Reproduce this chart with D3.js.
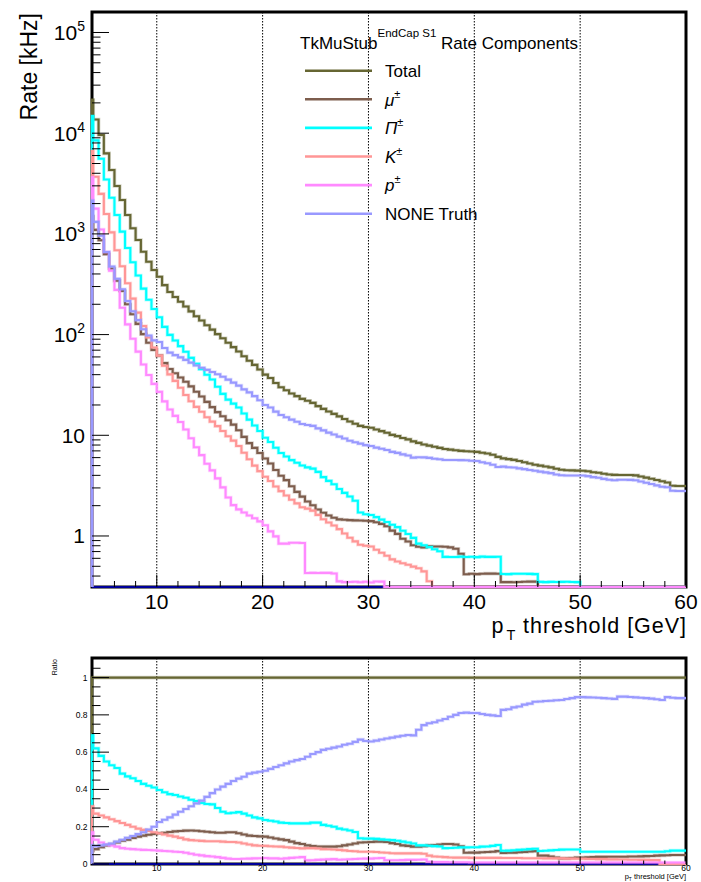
<!DOCTYPE html>
<html>
<head>
<meta charset="utf-8">
<script src="https://cdn.jsdelivr.net/npm/d3@7"></script>
<style>
  body { margin: 0; background: #fff; }
  svg { display: block; }
  text { font-family: "Liberation Sans", Arial, Helvetica, sans-serif; fill: #000; }
</style>
</head>
<body>
<svg id="chart" width="701" height="882"></svg>
<script>
// ---- binning: 0.5 GeV wide pT-threshold bins, low edges from 3.5 GeV ----
const ptEdges = d3.range(3.5, 60, 0.5);
const ptMax = 60;

// ---- total rate per bin [kHz] ----
const totalRate = [
  21400, 13700, 9600, 6300, 4310, 2990, 2170, 1540, 1137, 869,
  665, 529, 438, 375, 310, 265, 236, 212, 190, 170,
  152, 138, 124, 112, 101, 92, 83, 75, 68, 61,
  55, 50, 45, 40, 37, 33, 30, 28, 26, 24.5,
  23, 22, 21, 19.5, 18.3, 17.2, 16.3, 15.4, 14.5, 13.7,
  13, 12.4, 12.1, 11.9, 11.4, 11, 10.6, 10.1, 9.8, 9.4,
  9.1, 8.7, 8.4, 8.1, 7.9, 7.7, 7.5, 7.3, 7.2, 7.1,
  7.0, 6.95, 6.9, 6.85, 6.7, 6.6, 6.4, 6.1, 5.9, 5.8,
  5.7, 5.55, 5.4, 5.25, 5.1, 5.0, 4.9, 4.8, 4.65, 4.55,
  4.5, 4.48, 4.46, 4.45, 4.4, 4.3, 4.25, 4.15, 4.08, 4.04,
  4.03, 4.03, 4.03, 4.0, 3.9, 3.8, 3.7, 3.6, 3.5, 3.4,
  3.15, 3.14, 3.14
];

// ---- component fractions of the total per bin ----
const fracMu = [
  0.07, 0.08, 0.09, 0.10, 0.105, 0.115, 0.125, 0.13, 0.14, 0.147,
  0.152, 0.157, 0.161, 0.165, 0.168, 0.172, 0.175, 0.177, 0.179, 0.18,
  0.178, 0.176, 0.173, 0.17, 0.168, 0.168, 0.17, 0.17, 0.165, 0.158,
  0.152, 0.15, 0.148, 0.147, 0.142, 0.137, 0.132, 0.128, 0.12, 0.112,
  0.107, 0.1, 0.096, 0.094, 0.093, 0.093, 0.093, 0.095, 0.1, 0.105,
  0.11, 0.115, 0.117, 0.118, 0.12, 0.12, 0.118, 0.112, 0.107, 0.1,
  0.097, 0.093, 0.093, 0.095, 0.1, 0.102, 0.105, 0.107, 0.107, 0.105,
  0.095, 0.06, 0.061, 0.061, 0.063, 0.064, 0.066, 0.069, 0.059, 0.06,
  0.061, 0.063, 0.065, 0.067, 0.069, 0.045, 0.045, 0.04, 0.035, 0.03,
  0.03, 0.032, 0.034, 0.035, 0.036, 0.037, 0.038, 0.038, 0.039, 0.039,
  0.039, 0.039, 0.04, 0.04, 0.041, 0.042, 0.043, 0.045, 0.046, 0.047,
  0.048, 0.048, 0.048
];
const fracPi = [
  0.69, 0.62, 0.58, 0.55, 0.53, 0.515, 0.485, 0.47, 0.46, 0.445,
  0.43, 0.42, 0.41, 0.397, 0.385, 0.375, 0.37, 0.362, 0.355, 0.345,
  0.338, 0.328, 0.322, 0.32, 0.30, 0.28, 0.272, 0.275, 0.278, 0.27,
  0.26, 0.25, 0.245, 0.236, 0.232, 0.228, 0.222, 0.22, 0.218, 0.218,
  0.218, 0.218, 0.222, 0.222, 0.21, 0.205, 0.2, 0.19, 0.185, 0.18,
  0.172, 0.138, 0.136, 0.136, 0.135, 0.132, 0.13, 0.128, 0.125, 0.12,
  0.115, 0.11, 0.1, 0.1, 0.098, 0.096, 0.094, 0.085, 0.086, 0.087,
  0.089, 0.089, 0.09, 0.09, 0.093, 0.094, 0.097, 0.102, 0.071, 0.072,
  0.074, 0.076, 0.078, 0.08, 0.082, 0.07, 0.071, 0.073, 0.075, 0.077,
  0.078, 0.078, 0.078, 0.066, 0.066, 0.066, 0.066, 0.066, 0.066, 0.066,
  0.066, 0.066, 0.066, 0.066, 0.066, 0.066, 0.066, 0.066, 0.066, 0.068,
  0.072, 0.072, 0.072
];
const fracK = [
  0.31, 0.27, 0.26, 0.25, 0.24, 0.23, 0.22, 0.21, 0.2, 0.19,
  0.183, 0.177, 0.17, 0.165, 0.158, 0.152, 0.147, 0.14, 0.132, 0.128,
  0.126, 0.124, 0.122, 0.122, 0.122, 0.12, 0.118, 0.118, 0.115, 0.11,
  0.105, 0.1, 0.098, 0.097, 0.095, 0.094, 0.093, 0.09, 0.088, 0.086,
  0.084, 0.085, 0.085, 0.083, 0.08, 0.079, 0.078, 0.076, 0.073, 0.07,
  0.068, 0.066, 0.066, 0.066, 0.064, 0.062, 0.06, 0.058, 0.057, 0.057,
  0.057, 0.057, 0.057, 0.055, 0.045, 0.04, 0.039, 0.037, 0.035, 0.034,
  0.034, 0.034, 0.033, 0.033, 0.033, 0.033, 0.033, 0.033, 0.032, 0.032,
  0.032, 0.032, 0.031, 0.031, 0.031, 0.031, 0.03, 0.03, 0.03, 0.03,
  0.029, 0.029, 0.028, 0.028, 0.027, 0.027, 0.026, 0.026, 0.025, 0.025,
  0.024, 0.024, 0.023, 0.023, 0.022, 0.022, 0.021, 0.021, 0, 0,
  0, 0, 0
];
const fracP = [
  0.17, 0.13, 0.115, 0.105, 0.1, 0.093, 0.085, 0.082, 0.08, 0.078,
  0.076, 0.075, 0.074, 0.072, 0.07, 0.068, 0.066, 0.064, 0.06, 0.055,
  0.05, 0.046, 0.042, 0.04, 0.037, 0.033, 0.029, 0.027, 0.027, 0.028,
  0.029, 0.03, 0.031, 0.032, 0.03, 0.03, 0.028, 0.03, 0.033, 0.035,
  0.037, 0.0195, 0.0205, 0.022, 0.0235, 0.025, 0.026, 0.023, 0.024, 0.0255,
  0.027, 0.028, 0.029, 0.029, 0.031, 0.032, 0.02, 0.02, 0.02, 0.021,
  0.022, 0.022, 0.023, 0.024, 0.012, 0.01, 0.01, 0.01, 0.009, 0.009,
  0.009, 0.009, 0.008, 0.008, 0.008, 0.008, 0.008, 0.008, 0.008, 0.008,
  0.008, 0.008, 0.008, 0.008, 0.008, 0.008, 0.008, 0.008, 0.008, 0.008,
  0.008, 0.008, 0.008, 0.008, 0.008, 0.008, 0.008, 0.008, 0.008, 0.008,
  0.008, 0.008, 0.008, 0.008, 0.008, 0.008, 0.008, 0.008, 0.008, 0.008,
  0.008, 0.008, 0.008
];
const fracNone = [
  0.10, 0.096, 0.1, 0.105, 0.11, 0.12, 0.13, 0.14, 0.15, 0.16,
  0.17, 0.185, 0.2, 0.225, 0.237, 0.25, 0.265, 0.28, 0.295, 0.31,
  0.325, 0.34, 0.36, 0.38, 0.4, 0.415, 0.43, 0.445, 0.458, 0.468,
  0.485, 0.49, 0.495, 0.5, 0.51, 0.52, 0.53, 0.54, 0.55, 0.557,
  0.563, 0.575, 0.59, 0.6, 0.612, 0.618, 0.624, 0.63, 0.64, 0.645,
  0.655, 0.667, 0.66, 0.657, 0.662, 0.668, 0.673, 0.678, 0.683, 0.688,
  0.692, 0.69, 0.72, 0.745, 0.755, 0.76, 0.77, 0.778, 0.79, 0.8,
  0.81, 0.812, 0.81, 0.81, 0.805, 0.8, 0.797, 0.794, 0.827, 0.83,
  0.84, 0.845, 0.855, 0.86, 0.87, 0.872, 0.874, 0.876, 0.878, 0.88,
  0.885, 0.89, 0.895, 0.895, 0.894, 0.893, 0.892, 0.89, 0.888, 0.886,
  0.898, 0.898, 0.896, 0.894, 0.892, 0.89, 0.887, 0.884, 0.88, 0.895,
  0.892, 0.89, 0.89
];

// ---- axis tick values and labels ----
const xMajorTicks = [10, 20, 30, 40, 50, 60];
const xMinorTicks = [6, 8, 12, 14, 16, 18, 22, 24, 26, 28, 32, 34, 36, 38, 42, 44, 46, 48, 52, 54, 56, 58];
const rateDecades = [1, 10, 100, 1000, 10000, 100000];
const rateDecadeLabels = [["1", ""], ["10", ""], ["10", "2"], ["10", "3"], ["10", "4"], ["10", "5"]];
const ratioMajorTicks = [0, 0.2, 0.4, 0.6, 0.8, 1];
const ratioMajorLabels = ["0", "0.2", "0.4", "0.6", "0.8", "1"];

// ---- series styling (drawing order) ----
const frameHistColor = "#000099";   // empty frame histogram, drawn first
const series = [
  { key: "total", frac: null,   color: "#666633" },
  { key: "mu",    frac: fracMu, color: "#7d5d4d" },
  { key: "pi",    frac: fracPi, color: "#00ffff" },
  { key: "k",     frac: fracK,  color: "#ff9696" },
  { key: "p",     frac: fracP,  color: "#ff8aff" },
  { key: "none",  frac: fracNone, color: "#9999ff" }
];
const legendEntries = [
  { key: "total", parts: [["Total", "n"]] },
  { key: "mu",    parts: [["\u03bc", "i"], ["\u00b1", "sup"]] },
  { key: "pi",    parts: [["\u03a0", "i"], ["\u00b1", "sup"]] },
  { key: "k",     parts: [["K", "i"], ["\u00b1", "sup"]] },
  { key: "p",     parts: [["p", "i"], ["\u00b1", "sup"]] },
  { key: "none",  parts: [["NONE Truth", "n"]] }
];
const colorOf = Object.fromEntries(series.map(s => [s.key, s.color]));

// ---- layout ----
const svg = d3.select("#chart");
const upperBox = { l: 92, r: 686, t: 12, b: 587 };
const lowerBox = { l: 92, r: 686, t: 658, b: 864 };

const x = d3.scaleLinear().domain([3.88, ptMax]).range([upperBox.l, upperBox.r]);
const yRate = d3.scaleLog().domain([0.3114, 1.598e5]).range([upperBox.b, upperBox.t]);
const yRatio = d3.scaleLinear().domain([0, 1.105]).range([lowerBox.b, lowerBox.t]);

function stepPath(vals, yScale, floor) {
  const x0 = x.domain()[0];
  const pts = [[x0, floor]];
  vals.forEach((v, i) => pts.push([Math.max(ptEdges[i], x0), v]));
  pts.push([ptMax, vals[vals.length - 1]]);
  return d3.line()
    .x(d => x(d[0]))
    .y(d => yScale(Math.max(d[1], floor)))
    .curve(d3.curveStepAfter)(pts);
}

function drawPanel(box, yScale, floor, valuesOf) {
  const g = svg.append("g");
  // vertical dotted grid
  g.selectAll("line.grid").data(xMajorTicks.filter(t => t < ptMax)).join("line")
    .attr("x1", d => x(d)).attr("x2", d => x(d))
    .attr("y1", box.t).attr("y2", box.b)
    .attr("stroke", "#000").attr("stroke-width", 1)
    .attr("stroke-dasharray", "1.5,1.5");
  // frame
  g.append("rect")
    .attr("x", box.l).attr("y", box.t)
    .attr("width", box.r - box.l).attr("height", box.b - box.t)
    .attr("fill", "none").attr("stroke", "#000").attr("stroke-width", 3);
  // empty frame histogram sits on the axis floor
  g.append("line")
    .attr("x1", x.range()[0]).attr("x2", x.range()[1])
    .attr("y1", yScale(floor)).attr("y2", yScale(floor))
    .attr("stroke", frameHistColor).attr("stroke-width", 2.1);
  // histograms
  series.forEach(s => {
    const d = stepPath(valuesOf(s), yScale, floor);
    g.append("path").attr("d", d).attr("fill", "none")
      .attr("stroke", s.color).attr("stroke-width", 3.6).attr("stroke-opacity", 0.28);
    g.append("path").attr("d", d).attr("fill", "none")
      .attr("stroke", s.color).attr("stroke-width", 2.1);
  });
  return g;
}

// ---- upper panel: rates ----
const gTop = drawPanel(upperBox, yRate, yRate.domain()[0],
  s => s.frac ? totalRate.map((t, i) => t * s.frac[i]) : totalRate);

// x ticks (upper)
gTop.selectAll("line.xmaj").data(xMajorTicks).join("line")
  .attr("x1", d => x(d)).attr("x2", d => x(d))
  .attr("y1", upperBox.b).attr("y2", upperBox.b - 12)
  .attr("stroke", "#000").attr("stroke-width", 1);
gTop.selectAll("line.xmin").data(xMinorTicks).join("line")
  .attr("x1", d => x(d)).attr("x2", d => x(d))
  .attr("y1", upperBox.b).attr("y2", upperBox.b - 6)
  .attr("stroke", "#000").attr("stroke-width", 1);
gTop.selectAll("text.xl").data(xMajorTicks).join("text")
  .attr("x", d => x(d)).attr("y", 609)
  .attr("text-anchor", "middle").attr("font-size", 21)
  .text(d => d);

// y ticks (upper, log)
const rateMinor = [];
rateDecades.concat([0.1]).forEach(dec => {
  for (let m = 2; m <= 9; m++) {
    const v = m * dec;
    if (v > yRate.domain()[0] && v < yRate.domain()[1]) rateMinor.push(v);
  }
});
gTop.selectAll("line.ymaj").data(rateDecades).join("line")
  .attr("x1", upperBox.l).attr("x2", upperBox.l + 17)
  .attr("y1", d => yRate(d)).attr("y2", d => yRate(d))
  .attr("stroke", "#000").attr("stroke-width", 1);
gTop.selectAll("line.ymin").data(rateMinor).join("line")
  .attr("x1", upperBox.l).attr("x2", upperBox.l + 8.5)
  .attr("y1", d => yRate(d)).attr("y2", d => yRate(d))
  .attr("stroke", "#000").attr("stroke-width", 1);
rateDecades.forEach((d, i) => {
  const [base, exp] = rateDecadeLabels[i];
  const t = gTop.append("text")
    .attr("x", 85).attr("y", yRate(d) + 7.5)
    .attr("text-anchor", "end").attr("font-size", 21);
  t.append("tspan").text(base);
  if (exp) t.append("tspan").attr("font-size", 14).attr("dy", -9).text(exp);
});

// axis titles (upper)
svg.append("text")
  .attr("transform", "translate(37,13) rotate(-90)")
  .attr("text-anchor", "end").attr("font-size", 23)
  .text("Rate [kHz]");
{
  const t = svg.append("text").attr("x", 491.5).attr("y", 633).attr("font-size", 21.5);
  t.append("tspan").text("p");
  t.append("tspan").attr("font-size", 14.5).attr("dx", 3).attr("dy", 7).text("T");
  svg.append("text").attr("x", 686).attr("y", 633)
    .attr("text-anchor", "end").attr("font-size", 21.5)
    .attr("textLength", 163).attr("lengthAdjust", "spacing")
    .text("threshold [GeV]");
}

// legend
{
  const lg = svg.append("g");
  const title = lg.append("text").attr("x", 300).attr("y", 48.5).attr("font-size", 17);
  title.append("tspan").text("TkMuStub");
  title.append("tspan").attr("font-size", 11.5).attr("dy", -12).text("EndCap S1");
  title.append("tspan").attr("dy", 12).text(" Rate Components");
  legendEntries.forEach((e, i) => {
    const yy = 70.7 + i * 28.6;
    lg.append("line").attr("x1", 305).attr("x2", 372)
      .attr("y1", yy).attr("y2", yy)
      .attr("stroke", colorOf[e.key]).attr("stroke-width", 2.6);
    const t = lg.append("text").attr("x", 385).attr("y", yy + 6.2).attr("font-size", 17);
    e.parts.forEach(([str, kind]) => {
      const sp = t.append("tspan").text(str);
      if (kind === "i") sp.attr("font-style", "italic");
      if (kind === "sup") sp.attr("font-size", 11).attr("dy", -8);
    });
  });
}

// ---- lower panel: fractions of total ----
const gBot = drawPanel(lowerBox, yRatio, 0,
  s => s.frac ? s.frac : totalRate.map(() => 1));

gBot.selectAll("line.xmaj").data(xMajorTicks).join("line")
  .attr("x1", d => x(d)).attr("x2", d => x(d))
  .attr("y1", lowerBox.b).attr("y2", lowerBox.b - 7)
  .attr("stroke", "#000").attr("stroke-width", 1);
gBot.selectAll("line.xmin").data(xMinorTicks).join("line")
  .attr("x1", d => x(d)).attr("x2", d => x(d))
  .attr("y1", lowerBox.b).attr("y2", lowerBox.b - 3.5)
  .attr("stroke", "#000").attr("stroke-width", 1);
gBot.selectAll("text.xl").data(xMajorTicks).join("text")
  .attr("x", d => x(d)).attr("y", 871)
  .attr("text-anchor", "middle").attr("font-size", 8.5)
  .text(d => d);

const ratioMinor = d3.range(0.05, 1.1, 0.05).filter(v => !ratioMajorTicks.some(m => Math.abs(m - v) < 1e-6));
gBot.selectAll("line.ymaj").data(ratioMajorTicks).join("line")
  .attr("x1", lowerBox.l).attr("x2", lowerBox.l + 17)
  .attr("y1", d => yRatio(d)).attr("y2", d => yRatio(d))
  .attr("stroke", "#000").attr("stroke-width", 1);
gBot.selectAll("line.ymin").data(ratioMinor).join("line")
  .attr("x1", lowerBox.l).attr("x2", lowerBox.l + 8.5)
  .attr("y1", d => yRatio(d)).attr("y2", d => yRatio(d))
  .attr("stroke", "#000").attr("stroke-width", 1);
gBot.selectAll("text.yl").data(ratioMajorTicks).join("text")
  .attr("x", 87.5).attr("y", d => yRatio(d) + 3)
  .attr("text-anchor", "end").attr("font-size", 8.5)
  .text((d, i) => ratioMajorLabels[i]);

svg.append("text")
  .attr("transform", "translate(57,659) rotate(-90)")
  .attr("text-anchor", "end").attr("font-size", 7)
  .text("Ratio");
{
  const t = svg.append("text").attr("x", 686).attr("y", 879.3)
    .attr("text-anchor", "end").attr("font-size", 7.5);
  t.append("tspan").text("p");
  t.append("tspan").attr("font-size", 4.8).attr("dy", 1.2).text("T");
  t.append("tspan").attr("dy", -1.2).text(" threshold [GeV]");
}
</script>
</body>
</html>
